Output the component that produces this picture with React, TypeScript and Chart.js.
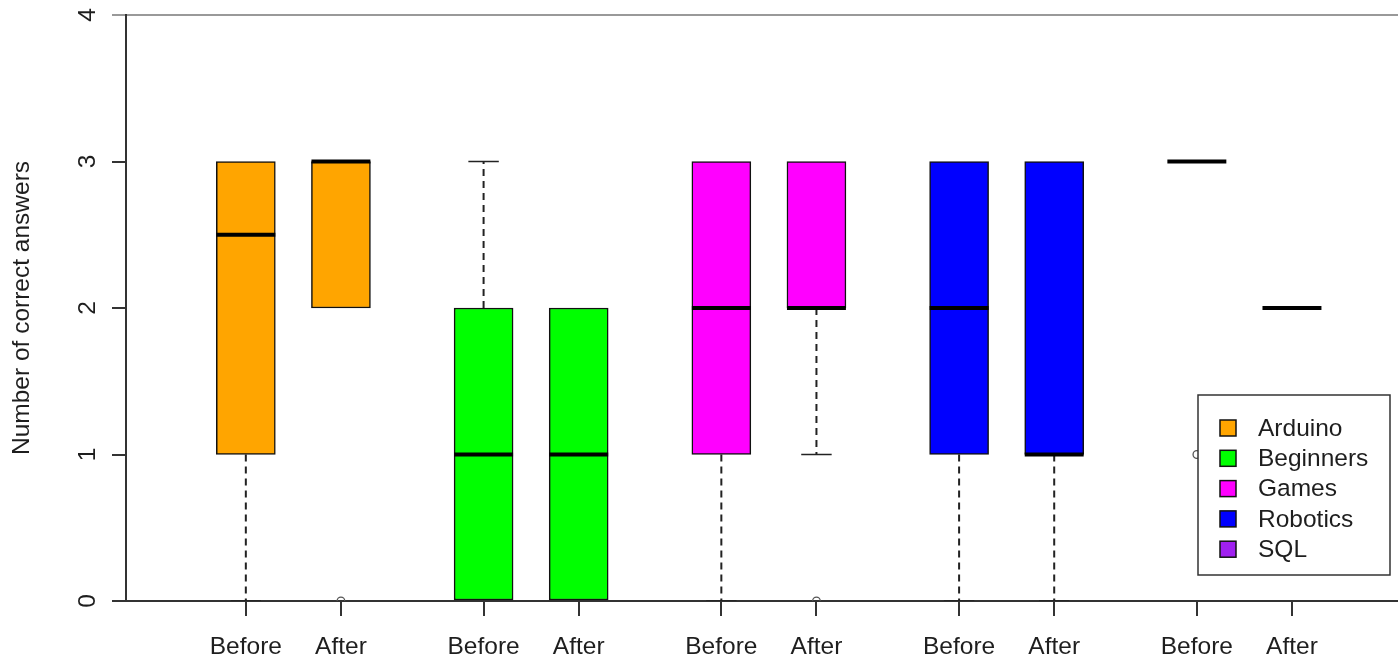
import { useEffect, useRef } from 'react';
import { Chart, registerables } from 'chart.js';

Chart.register(...registerables);

// ---- data ----
const groups = ['Arduino', 'Beginners', 'Games', 'Robotics', 'SQL'];
const groupColors = ['#FFA500', '#00FF00', '#FF00FF', '#0000FF', '#A020F0'];
const phaseLabels = ['Before', 'After', 'Before', 'After', 'Before', 'After', 'Before', 'After', 'Before', 'After'];
const positions = [1, 3, 6, 8, 11, 13, 16, 18, 21, 23];
const q1 = [1, 2, 0, 0, 1, 2, 1, 1, 3, 2];
const q3 = [3, 3, 2, 2, 3, 3, 3, 3, 3, 2];
const medians = [2.5, 3, 1, 1, 2, 2, 2, 1, 3, 2];
const whiskerLow = [0, 2, 0, 0, 0, 1, 0, 0, 3, 2];
const whiskerHigh = [3, 3, 3, 2, 3, 3, 3, 3, 3, 2];
const outliers: number[][] = [[], [0], [], [], [], [0], [], [], [1], []];
const yTicks = [0, 1, 2, 3, 4];
const yTitle = 'Number of correct answers';

// ---- style constants ----
const BOX_HALF = 0.62;
const CAP_HALF = 0.32;
const FONT = '"Liberation Sans", Arial, sans-serif';
const FS = 24.5;
const TEXT = '#1e1e1e';

export default function App() {
  const ref = useRef<HTMLCanvasElement | null>(null);

  useEffect(() => {
    document.body.style.margin = '0';
    const canvas = ref.current;
    if (!canvas) return;

    const boxData = positions.map((p, i) => ({ x: p, y: [q1[i], q3[i]] }));
    const boxColors = positions.map((_, i) => groupColors[Math.floor(i / 2)]);

    const medianData: any[] = [];
    positions.forEach((p, i) => {
      medianData.push({ x: p - BOX_HALF, y: medians[i] }, { x: p + BOX_HALF, y: medians[i] }, { x: p + BOX_HALF, y: null });
    });

    const whiskerData: any[] = [];
    positions.forEach((p, i) => {
      whiskerData.push(
        { x: p, y: q1[i] }, { x: p, y: whiskerLow[i] }, { x: p, y: null },
        { x: p, y: q3[i] }, { x: p, y: whiskerHigh[i] }, { x: p, y: null },
      );
    });

    // staples only where the whisker actually leaves the box
    const capData: any[] = [];
    positions.forEach((p, i) => {
      if (whiskerLow[i] < q1[i]) {
        capData.push({ x: p - CAP_HALF, y: whiskerLow[i] }, { x: p + CAP_HALF, y: whiskerLow[i] }, { x: p + CAP_HALF, y: null });
      }
      if (whiskerHigh[i] > q3[i]) {
        capData.push({ x: p - CAP_HALF, y: whiskerHigh[i] }, { x: p + CAP_HALF, y: whiskerHigh[i] }, { x: p + CAP_HALF, y: null });
      }
    });

    const outlierData: any[] = [];
    positions.forEach((p, i) => {
      outliers[i].forEach((v) => outlierData.push({ x: p, y: v }));
    });

    const overlayPlugin = {
      id: 'overlay',
      afterDraw(chart: any) {
        const ctx = chart.ctx;
        const ys = chart.scales.y;
        // y tick labels, rotated like R's default
        ctx.save();
        ctx.fillStyle = TEXT;
        ctx.font = `${FS}px ${FONT}`;
        ctx.textAlign = 'center';
        ctx.textBaseline = 'middle';
        ys.ticks.forEach((t: any) => {
          const py = ys.getPixelForValue(t.value);
          ctx.save();
          ctx.translate(88, py);
          ctx.rotate(-Math.PI / 2);
          ctx.fillText(String(t.value), 0, 0);
          ctx.restore();
        });
        ctx.restore();

        // legend
        const lx = 1198, ly = 395, lw = 192, lh = 180;
        ctx.save();
        ctx.fillStyle = '#ffffff';
        ctx.fillRect(lx, ly, lw, lh);
        ctx.strokeStyle = '#333';
        ctx.lineWidth = 1.5;
        ctx.strokeRect(lx, ly, lw, lh);
        ctx.font = `${FS}px ${FONT}`;
        ctx.textAlign = 'left';
        ctx.textBaseline = 'middle';
        groups.forEach((g, i) => {
          const cy = 428 + i * 30.3;
          ctx.fillStyle = groupColors[i];
          ctx.fillRect(1220, cy - 8, 16, 16);
          ctx.strokeStyle = '#111';
          ctx.lineWidth = 1.5;
          ctx.strokeRect(1220, cy - 8, 16, 16);
          ctx.fillStyle = TEXT;
          ctx.fillText(g, 1258, cy + 1);
        });
        ctx.restore();
      },
    };

    const lineDs = (data: any[], extra: any) => ({
      type: 'line',
      data,
      borderColor: '#222',
      borderWidth: 2,
      pointRadius: 0,
      spanGaps: false,
      fill: false,
      tension: 0,
      borderCapStyle: 'butt',
      ...extra,
    });

    const chart = new Chart(canvas, {
      type: 'bar',
      data: {
        datasets: [
          lineDs(medianData, { borderColor: '#000', borderWidth: 4 }),
          {
            type: 'scatter',
            data: outlierData,
            pointRadius: 3.8,
            pointBackgroundColor: 'rgba(0,0,0,0)',
            pointBorderColor: '#555',
            pointBorderWidth: 1.3,
            showLine: false,
          } as any,
          {
            type: 'bar',
            data: boxData as any,
            backgroundColor: boxColors,
            borderColor: '#111',
            borderWidth: 1.5,
            borderSkipped: false,
            barThickness: 59,
          } as any,
          lineDs(whiskerData, { borderDash: [7, 5], borderWidth: 2 }),
          lineDs(capData, { borderWidth: 1.5 }),
        ] as any,
      },
      options: {
        animation: false,
        responsive: false,
        devicePixelRatio: 1,
        events: [],
        layout: { autoPadding: false, padding: { top: 15, left: 0, right: 0, bottom: 0 } },
        plugins: {
          legend: { display: false },
          tooltip: { enabled: false },
        },
        scales: {
          x: {
            type: 'linear',
            min: -1.52,
            max: 25.23,
            offset: false,
            afterBuildTicks: (scale: any) => {
              scale.ticks = positions.map((v) => ({ value: v }));
            },
            afterFit: (scale: any) => {
              scale.height = 60;
            },
            ticks: {
              autoSkip: false,
              maxRotation: 0,
              minRotation: 0,
              padding: 17,
              color: TEXT,
              font: { family: FONT, size: FS },
              callback: (value: any) => {
                const idx = positions.indexOf(Number(value));
                return idx >= 0 ? phaseLabels[idx] : '';
              },
            },
            grid: {
              offset: false,
              drawOnChartArea: false,
              drawTicks: true,
              tickLength: 15,
              tickColor: '#333',
              lineWidth: 2,
            },
            border: { display: true, color: '#333', width: 2 },
          },
          y: {
            type: 'linear',
            min: 0,
            max: 4,
            afterBuildTicks: (scale: any) => {
              scale.ticks = yTicks.map((v) => ({ value: v }));
            },
            afterFit: (scale: any) => {
              scale.width = 126;
            },
            ticks: { display: false },
            grid: {
              drawOnChartArea: true,
              drawTicks: true,
              tickLength: 14,
              lineWidth: 2,
              color: (c: any) => (c.tick && c.tick.value === 4 ? '#999' : 'rgba(0,0,0,0)'),
              tickColor: (c: any) => (c.tick && c.tick.value === 4 ? '#999' : '#333'),
            },
            border: { display: true, color: '#333', width: 2 },
            title: {
              display: true,
              text: yTitle,
              color: TEXT,
              font: { family: FONT, size: FS },
              padding: { top: 8, bottom: 0 },
            },
          },
        },
      } as any,
      plugins: [overlayPlugin],
    });

    return () => chart.destroy();
  }, []);

  return (
    <div style={{ width: 1398, height: 661 }}>
      <canvas ref={ref} width={1398} height={661} style={{ display: 'block' }} />
    </div>
  );
}
